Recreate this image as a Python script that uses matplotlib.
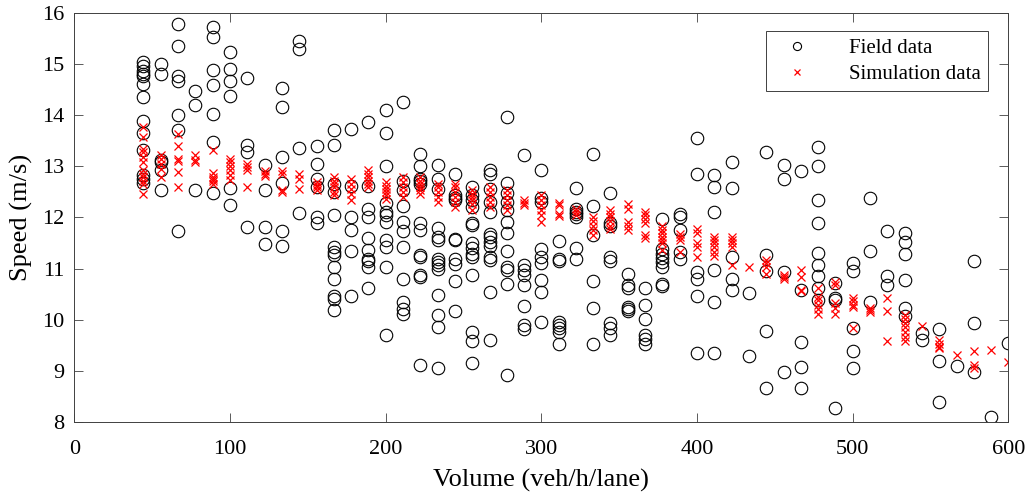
import matplotlib
matplotlib.use("Agg")
import matplotlib.pyplot as plt

# volume levels (veh/h/lane)
volume_levels = [44.4, 55.6, 66.7, 77.8, 88.9, 100, 111.1, 122.2, 133.3, 144.4,
                 155.6, 166.7, 177.8, 188.9, 200, 211.1, 222.2, 233.3, 244.4, 255.6,
                 266.7, 277.8, 288.9, 300, 311.1, 322.2, 333.3, 344.4, 355.6, 366.7,
                 377.8, 388.9, 400, 411.1, 422.2, 433.3, 444.4, 455.6, 466.7, 477.8,
                 488.9, 500, 511.1, 522.2, 533.3, 544.4, 555.6, 566.7, 577.8, 588.9, 600]

# observed speeds (m/s) at each volume level
field_speed = [
    [15.03, 14.95, 14.87, 14.80, 14.76, 14.60, 14.35, 13.89, 13.65, 13.32, 12.83, 12.75, 12.68],
    [14.99, 14.80, 13.13, 13.08, 12.92, 12.53],
    [15.77, 15.34, 14.76, 14.67, 14.00, 13.71, 11.73],
    [14.47, 14.20, 12.54],
    [15.73, 15.52, 14.88, 14.58, 14.02, 13.48, 12.48],
    [15.23, 14.89, 14.66, 14.37, 12.57, 12.25],
    [14.73, 13.42, 13.27, 11.81],
    [13.03, 12.54, 11.82, 11.47],
    [14.52, 14.15, 13.18, 12.67, 11.73, 11.45],
    [15.44, 15.29, 13.35, 12.09],
    [13.39, 13.05, 12.75, 12.59, 12.00, 11.88],
    [13.70, 13.42, 12.66, 12.49, 12.05, 11.42, 11.32, 11.26, 11.03, 10.80, 10.46, 10.41, 10.19],
    [13.72, 12.61, 12.00, 11.76, 11.34, 10.47],
    [13.87, 12.61, 12.16, 12.00, 11.60, 11.37, 11.19, 11.15, 11.03, 10.61],
    [14.09, 13.65, 13.01, 12.28, 12.10, 12.04, 11.91, 11.55, 11.42, 11.03, 9.70],
    [14.26, 12.72, 12.53, 12.23, 11.91, 11.73, 11.42, 10.80, 10.34, 10.21, 10.11],
    [13.24, 13.01, 12.75, 12.71, 12.66, 11.88, 11.75, 11.26, 11.23, 10.87, 10.84, 9.11],
    [13.03, 12.75, 12.56, 11.80, 11.62, 11.56, 11.19, 11.13, 11.06, 11.00, 10.48, 10.09, 9.85, 9.06],
    [12.84, 12.43, 12.37, 12.33, 11.58, 11.55, 11.19, 11.09, 10.76, 10.17],
    [12.59, 12.43, 12.33, 12.20, 11.88, 11.85, 11.49, 11.41, 11.29, 11.23, 10.88, 9.76, 9.59, 9.16],
    [12.93, 12.85, 12.56, 12.30, 12.10, 11.68, 11.62, 11.52, 11.45, 11.23, 11.17, 10.54, 9.61],
    [13.96, 12.68, 12.48, 12.30, 12.14, 11.90, 11.69, 11.35, 11.03, 10.97, 10.69, 8.91],
    [13.22, 11.06, 10.97, 10.88, 10.67, 10.27, 9.89, 9.81],
    [12.93, 12.37, 12.30, 11.39, 11.23, 11.10, 10.78, 10.54, 9.96],
    [11.54, 11.19, 11.15, 9.96, 9.89, 9.83, 9.76, 9.52],
    [12.58, 12.17, 12.10, 12.06, 12.01, 11.41, 11.19],
    [13.23, 12.23, 11.65, 10.76, 10.23, 9.53],
    [12.47, 11.88, 11.84, 11.23, 11.15, 9.93, 9.83, 9.70],
    [10.90, 10.67, 10.61, 10.25, 10.20, 10.17],
    [10.61, 10.29, 10.02, 9.70, 9.63, 9.52],
    [11.97, 11.39, 11.29, 11.21, 11.13, 11.03, 10.70, 10.65],
    [12.07, 12.01, 11.76, 11.32, 11.19],
    [13.55, 12.85, 10.94, 10.80, 10.46, 9.35],
    [12.82, 12.59, 12.10, 10.97, 10.35, 9.34],
    [13.08, 12.58, 11.23, 10.80, 10.58],
    [10.52, 9.29],
    [13.27, 11.27, 10.95, 9.78, 8.66],
    [13.02, 12.75, 10.93, 8.98],
    [12.90, 10.59, 9.57, 9.07, 8.66],
    [13.37, 13.00, 12.34, 11.88, 11.30, 11.06, 10.86, 10.62, 10.39],
    [10.71, 10.42, 10.38, 8.28],
    [11.10, 10.95, 9.83, 9.39, 9.05],
    [12.38, 11.34, 10.35],
    [11.73, 10.86, 10.67],
    [11.70, 11.52, 11.28, 10.77, 10.22, 10.07],
    [9.74, 9.60],
    [9.81, 9.20, 8.40],
    [9.09],
    [11.15, 9.94, 8.97],
    [8.09],
    [9.55],
]

# simulated speeds (m/s) at each volume level
sim_speed = [
    [13.76, 13.57, 13.34, 13.27, 13.18, 13.08, 12.92, 12.85, 12.79, 12.72, 12.66, 12.46],
    [13.21, 13.14, 13.05, 12.95, 12.79],
    [13.63, 13.40, 13.14, 13.10, 12.88, 12.60],
    [13.22, 13.13, 13.08],
    [13.32, 12.87, 12.79, 12.75, 12.71, 12.66],
    [13.14, 13.08, 13.00, 12.92, 12.82, 12.73],
    [13.05, 12.98, 12.93, 12.60],
    [12.90, 12.85, 12.81],
    [12.90, 12.84, 12.54, 12.49],
    [12.85, 12.75, 12.55],
    [12.69, 12.64, 12.59, 12.54],
    [12.79, 12.72, 12.66, 12.59, 12.49, 12.43],
    [12.75, 12.66, 12.56, 12.46, 12.33],
    [12.92, 12.85, 12.79, 12.72, 12.66, 12.59],
    [12.69, 12.62, 12.56, 12.49, 12.43, 12.36],
    [12.79, 12.69, 12.59, 12.49, 12.40],
    [12.79, 12.72, 12.66, 12.59, 12.53, 12.46],
    [12.66, 12.59, 12.49, 12.40, 12.30],
    [12.66, 12.59, 12.49, 12.40, 12.30, 12.20],
    [12.53, 12.46, 12.40, 12.33, 12.27, 12.14],
    [12.59, 12.49, 12.40, 12.30, 12.20],
    [12.53, 12.43, 12.33, 12.24, 12.14],
    [12.33, 12.28, 12.24],
    [12.43, 12.33, 12.24, 12.14, 12.04, 11.91],
    [12.28, 12.24, 12.07, 12.02],
    [12.17, 12.10, 12.04],
    [12.01, 11.93, 11.84, 11.75, 11.65],
    [12.14, 12.07, 12.01, 11.93, 11.84, 11.78],
    [12.27, 12.17, 11.91, 11.84, 11.75],
    [12.10, 12.04, 11.97, 11.88, 11.65, 11.60],
    [11.84, 11.75, 11.69, 11.62, 11.55, 11.49, 11.36],
    [11.68, 11.62, 11.55, 11.32],
    [11.78, 11.69, 11.49, 11.42, 11.23],
    [11.62, 11.55, 11.49, 11.42, 11.32, 11.24],
    [11.62, 11.55, 11.49, 11.42, 11.06],
    [11.03],
    [11.16, 11.10, 11.03, 10.90],
    [10.87, 10.84, 10.80],
    [10.97, 10.84, 10.59, 10.56],
    [10.61, 10.44, 10.38, 10.28, 10.20, 10.12],
    [10.74, 10.67, 10.32, 10.22, 10.11],
    [10.43, 10.37, 10.28, 10.24, 9.83],
    [10.22, 10.19, 10.15],
    [10.43, 10.17, 9.58],
    [10.09, 10.02, 9.93, 9.86, 9.76, 9.66, 9.59],
    [9.87],
    [9.60, 9.53, 9.47, 9.44],
    [9.31],
    [9.39, 9.11, 9.05],
    [9.40],
    [9.18],
]


def flatten(levels, groups):
    xs, ys = [], []
    for v, g in zip(levels, groups):
        xs += [v] * len(g)
        ys += g
    return xs, ys


def main():
    plt.rcParams['font.family'] = ['Liberation Serif', 'DejaVu Serif']

    fx, fy = flatten(volume_levels, field_speed)
    sx, sy = flatten(volume_levels, sim_speed)

    fig = plt.figure(figsize=(10.29, 4.94), dpi=100)
    ax = fig.add_axes([0.0722, 0.1457, 0.9078, 0.8286])

    ax.plot(fx, fy, 'o', markersize=9, markerfacecolor='none',
            markeredgecolor='black', markeredgewidth=0.8, label='Field data')
    ax.plot(sx, sy, 'x', markersize=6, color='red', markeredgewidth=0.9,
            label='Simulation data')

    ax.set_xlim(0, 600)
    ax.set_ylim(8, 16)
    ax.set_xticks(range(0, 601, 100))
    ax.set_yticks(range(8, 17))
    ax.tick_params(direction='in', top=True, right=True, length=6.5,
                   width=0.6, color='#404040', labelsize=16)
    ax.tick_params(axis='x', pad=13)
    ax.tick_params(axis='y', pad=7)
    for s in ax.spines.values():
        s.set_color('#404040')
        s.set_linewidth(0.7)

    ax.set_xlabel('Volume (veh/h/lane)', fontsize=19, labelpad=7)
    ax.set_ylabel('Speed (m/s)', fontsize=19, labelpad=7)

    leg = ax.legend(loc='upper right', bbox_to_anchor=(0.978, 0.955),
                    borderaxespad=0, fontsize=15, fancybox=False,
                    edgecolor='#404040', framealpha=1, handletextpad=1.4,
                    labelspacing=0.3, borderpad=0.35, handlelength=2.2,
                    markerscale=0.65)
    leg.get_frame().set_linewidth(0.7)

    plt.savefig('out.png', dpi=100)


main()
